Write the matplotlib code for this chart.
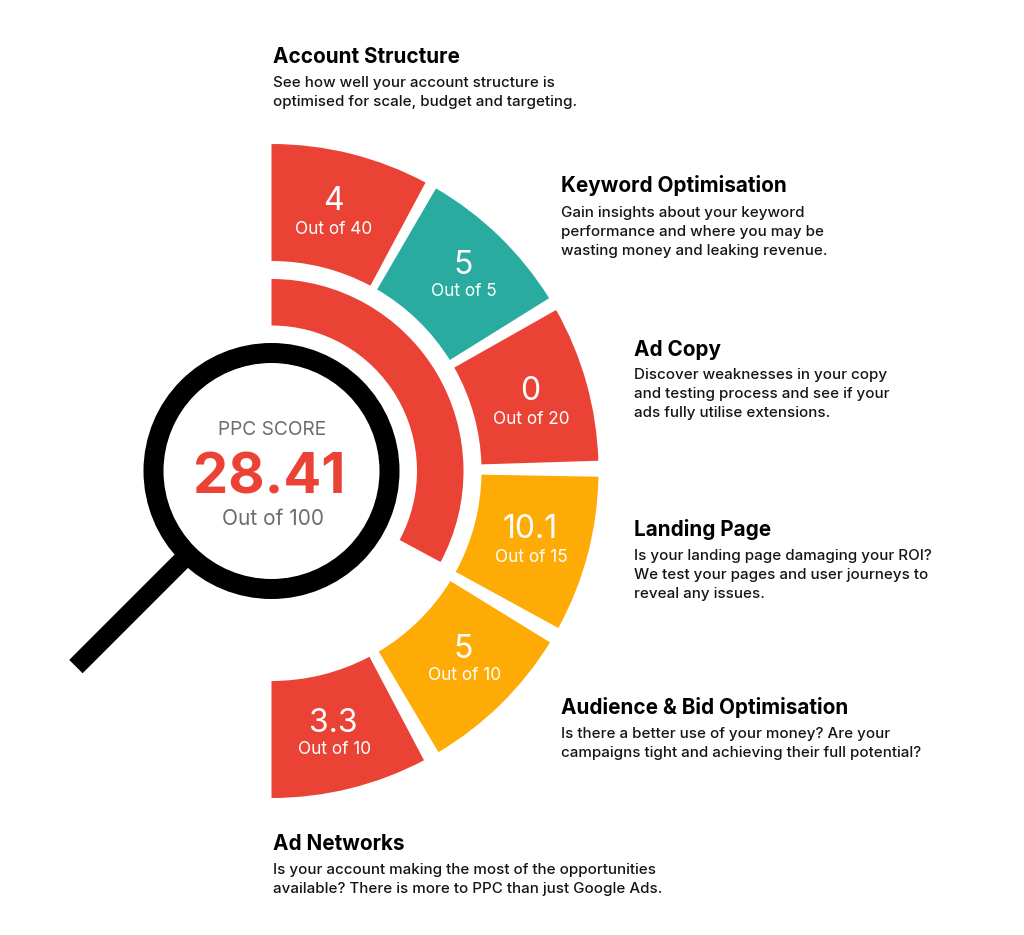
import matplotlib
matplotlib.use('Agg')
import matplotlib.pyplot as plt
from matplotlib.patches import Wedge, Circle
import numpy as np

plt.rcParams['font.family'] = ['Inter', 'DejaVu Sans']

# chart values
sections = ['Account Structure', 'Keyword Optimisation', 'Ad Copy', 'Landing Page',
            'Audience & Bid Optimisation', 'Ad Networks']
scores = ['4', '5', '0', '10.1', '5', '3.3']
out_of = [40, 5, 20, 15, 10, 10]
blurbs = [
    'See how well your account structure is\noptimised for scale, budget and targeting.',
    'Gain insights about your keyword\nperformance and where you may be\nwasting money and leaking revenue.',
    'Discover weaknesses in your copy\nand testing process and see if your\nads fully utilise extensions.',
    'Is your landing page damaging your ROI?\nWe test your pages and user journeys to\nreveal any issues.',
    'Is there a better use of your money? Are your\ncampaigns tight and achieving their full potential?',
    'Is your account making the most of the opportunities\navailable? There is more to PPC than just Google Ads.',
]
total_score = '28.41'
total_max = 100

RED = '#ea4336'
TEAL = '#29ab9f'
AMBER = '#ffab06'
GREY = '#6d6d6d'
seg_colors = [RED, TEAL, RED, AMBER, AMBER, RED]

# layout, in pixels of the 1024x935 picture
W, H = 1024, 935
CX, CY = 271.5, 471
seg_angles = [(61.9, 90), (31.9, 59.8), (1.8, 29.5), (-28.7, -1), (-59.3, -31.6), (-90, -62.2)]
score_pos = [(333, 202), (463, 265), (530, 392), (530, 530), (463, 649), (333, 723)]
head_pos = [(273, 57), (561, 186), (634, 350), (634, 530), (561, 708), (273, 844)]
blurb_pos = [(273, 76), (561, 206), (634, 368), (634, 549), (561, 727), (273, 863)]


def Y(py):
    return H - py


fig = plt.figure(figsize=(W / 100, H / 100), dpi=100)
ax = fig.add_axes([0, 0, 1, 1])
ax.set_xlim(0, W)
ax.set_ylim(0, H)
ax.axis('off')

for (a1, a2), c in zip(seg_angles, seg_colors):
    ax.add_patch(Wedge((CX, Y(CY)), 327, a1, a2, width=117, fc=c, ec='none'))

# overall score arc
ax.add_patch(Wedge((CX, Y(CY)), 192, -28.3, 90, width=46.5, fc=RED, ec='none'))

# magnifying glass
t = np.radians(225)
ax.plot([CX + 120 * np.cos(t), CX + 276.6 * np.cos(t)],
        [Y(CY) + 120 * np.sin(t), Y(CY) + 276.6 * np.sin(t)],
        color='black', lw=13.6, solid_capstyle='butt', zorder=2)
ax.add_patch(Circle((CX, Y(CY)), 118, fc='none', ec='black', lw=14.4, zorder=3))

ax.text(272, Y(430), 'PPC SCORE', color=GREY, fontsize=13.8, ha='center', va='center')
ax.text(269, Y(478), total_score, color=RED, fontsize=40.3, fontweight='bold', ha='center', va='center')
ax.text(272.5, Y(519), 'Out of %d' % total_max, color=GREY, fontsize=15, ha='center', va='center')

for i in range(len(sections)):
    x, y = score_pos[i]
    ax.text(x, Y(y), scores[i], color='white', fontsize=23, ha='center', va='center')
    ax.text(x + 1, Y(y + 27), 'Out of %d' % out_of[i], color='white', fontsize=12.4, ha='center', va='center')

    hx, hy = head_pos[i]
    ax.text(hx, Y(hy), sections[i], color='black', fontsize=14.9, fontweight='bold', ha='left', va='center')
    bx, by = blurb_pos[i]
    ax.text(bx, Y(by), blurbs[i], color='#151515', fontsize=10.9, fontweight='medium', ha='left', va='top',
            linespacing=1.47)

fig.savefig('out.png', dpi=100, facecolor='white')
